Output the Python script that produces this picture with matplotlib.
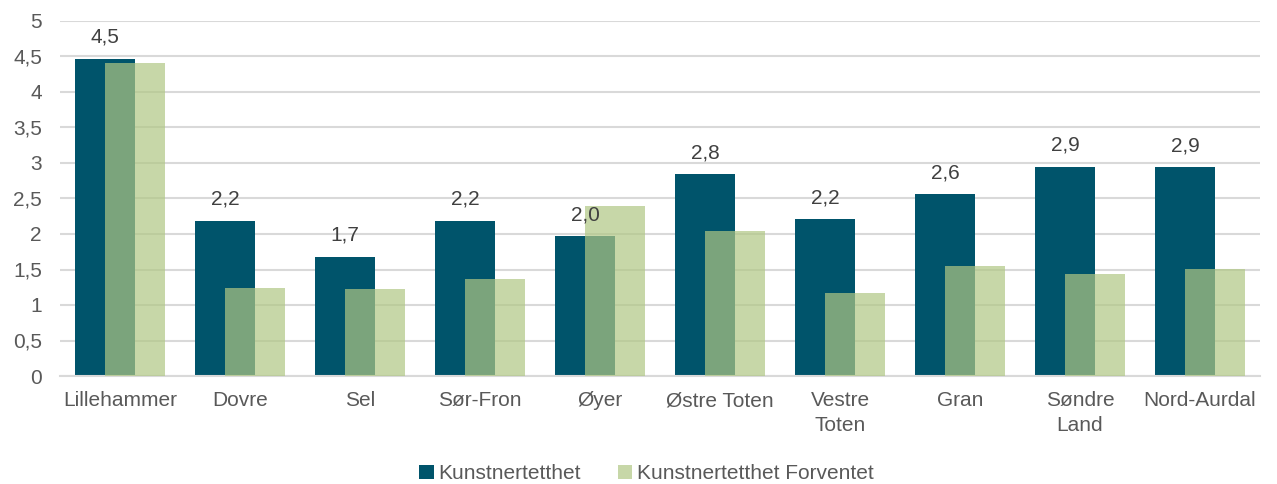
import numpy as np
import matplotlib.pyplot as plt

plt.rcParams['font.family'] = ['Liberation Sans', 'DejaVu Sans']

# data
kommuner = ["Lillehammer", "Dovre", "Sel", "Sør-Fron", "Øyer", "Østre Toten",
            "Vestre\nToten", "Gran", "Søndre\nLand", "Nord-Aurdal"]
tetthet = [4.47, 2.19, 1.68, 2.19, 1.97, 2.84, 2.21, 2.56, 2.95, 2.94]
forventet = [4.41, 1.24, 1.22, 1.37, 2.39, 2.04, 1.17, 1.55, 1.44, 1.51]
etiketter = ["4,5", "2,2", "1,7", "2,2", "2,0", "2,8", "2,2", "2,6", "2,9", "2,9"]
yticks = [0, 0.5, 1, 1.5, 2, 2.5, 3, 3.5, 4, 4.5, 5]

DARK = "#00546B"
LIGHT = "#B0C784"
TEXT = "#595959"
GRID = "#D9D9D9"

fig = plt.figure(figsize=(12.77, 4.84), dpi=100)
ax = fig.add_axes([60 / 1277, 1 - 376 / 484, 1200 / 1277, 355 / 484])

x = np.arange(len(kommuner))
w = 0.5
b1 = ax.bar(x - 0.125, tetthet, width=w, color=DARK, label="Kunstnertetthet", zorder=2)
b2 = ax.bar(x + 0.125, forventet, width=w, color=LIGHT, alpha=0.7,
            label="Kunstnertetthet Forventet", zorder=3)

for xi, v, lab in zip(x, tetthet, etiketter):
    ax.annotate(lab, (xi - 0.125, v), xytext=(0, 8.5), textcoords="offset points",
                ha="center", va="bottom", fontsize=15, color="#404040", zorder=4)

ax.set_xlim(-0.5, len(kommuner) - 0.5)
ax.set_ylim(0, 5)
ax.set_yticks(yticks)
ax.set_yticklabels([f"{t:g}".replace(".", ",") for t in yticks])
ax.set_xticks(x)
ax.set_xticklabels(kommuner, linespacing=1.4)
ax.tick_params(axis="both", length=0, labelsize=15, labelcolor=TEXT)
ax.tick_params(axis="y", pad=13)
ax.tick_params(axis="x", pad=11)

ax.grid(axis="y", color=GRID, linewidth=1.5, zorder=0)
ax.set_axisbelow(True)
for s in ["top", "right", "left"]:
    ax.spines[s].set_visible(False)
ax.spines["bottom"].set_color(GRID)
ax.spines["bottom"].set_linewidth(1.5)

fig.legend(handles=[b1, b2], loc="lower center", bbox_to_anchor=(0.506, -0.037),
           ncol=2, frameon=False, fontsize=15, labelcolor=TEXT,
           handlelength=0.7, handleheight=0.7, handletextpad=0.2, columnspacing=1.8)

fig.savefig("out.png", dpi=100)
